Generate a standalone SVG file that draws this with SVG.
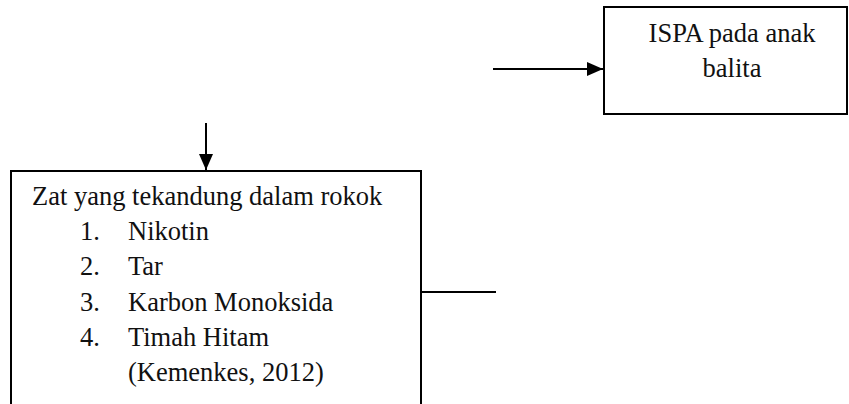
<svg xmlns="http://www.w3.org/2000/svg" width="849" height="404" viewBox="0 0 849 404">
<style>
.box{fill:#fff;stroke:#000;stroke-width:2}
.t{font-family:"Liberation Serif","Times New Roman",serif;font-size:26.5px;fill:#111}
.c{stroke:#000;stroke-width:2;fill:none}
</style>
<defs>
<marker id="ah" markerWidth="16" markerHeight="14" refX="16" refY="7" orient="auto" markerUnits="userSpaceOnUse">
<path d="M0,0 L16,7 L0,14 Z" fill="#000"/>
</marker>
</defs>
<rect width="849" height="404" fill="#fff"/>
<g id="node-ispa">
<rect class="box" x="604" y="7" width="243" height="107"/>
<text class="t" x="732" y="42" text-anchor="middle">ISPA pada anak</text>
<text class="t" x="732" y="77" text-anchor="middle">balita</text>
</g>
<g id="node-zat">
<rect class="box" x="11" y="171" width="410" height="260"/>
<text class="t" x="32" y="205">Zat yang tekandung dalam rokok</text>
<text class="t" x="80" y="240">1.</text><text class="t" x="128" y="240">Nikotin</text>
<text class="t" x="80" y="275">2.</text><text class="t" x="128" y="275">Tar</text>
<text class="t" x="80" y="311">3.</text><text class="t" x="128" y="311">Karbon Monoksida</text>
<text class="t" x="80" y="346">4.</text><text class="t" x="128" y="346">Timah Hitam</text>
<text class="t" x="128" y="381">(Kemenkes, 2012)</text>
</g>
<g id="connectors">
<line class="c" x1="493" y1="69" x2="603" y2="69" marker-end="url(#ah)"/>
<line class="c" x1="206" y1="123" x2="206" y2="170" marker-end="url(#ah)"/>
<line class="c" x1="422" y1="292" x2="496" y2="292"/>
</g>
</svg>
